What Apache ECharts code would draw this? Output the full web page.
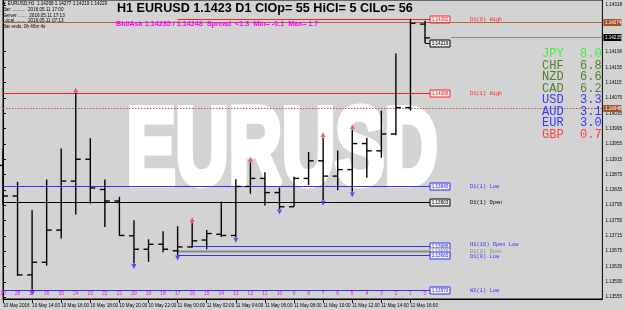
<!DOCTYPE html>
<html>
<head>
<meta charset="utf-8">
<script src="https://cdn.jsdelivr.net/npm/echarts@6/dist/echarts.min.js"></script>
<style>
html, body { margin: 0; padding: 0; background: #d3d3d3; }
#chart { width: 625px; height: 310px; }
</style>
</head>
<body>
<div id="chart"></div>
<script>
// H1 bars, oldest first (MT4 shift 29 ... 0)
const shifts = [29, 28, 27, 26, 25, 24, 23, 22, 21, 20, 19, 18, 17, 16, 15, 14, 13, 12, 11, 10, 9, 8, 7, 6, 5, 4, 3, 2, 1, 0];
const opens  = [1.13899, 1.13819, 1.13613, 1.13646, 1.13730, 1.13858, 1.13915, 1.13836, 1.13806, 1.13715, 1.13680, 1.13693, 1.13676, 1.13686, 1.13704, 1.13719, 1.13716, 1.13844, 1.13865, 1.13828, 1.13791, 1.13865, 1.13911, 1.13871, 1.13888, 1.13956, 1.13937, 1.13981, 1.14050, 1.14268];
const highs  = [1.13943, 1.13856, 1.13782, 1.13862, 1.13943, 1.14088, 1.13970, 1.13862, 1.13817, 1.13756, 1.13706, 1.13727, 1.13740, 1.13749, 1.13730, 1.13805, 1.13863, 1.13907, 1.13881, 1.13841, 1.13869, 1.13934, 1.13971, 1.13938, 1.13992, 1.13971, 1.14042, 1.14191, 1.14282, 1.14277];
const lows   = [1.13795, 1.13610, 1.13574, 1.13637, 1.13708, 1.13771, 1.13799, 1.13738, 1.13715, 1.13643, 1.13647, 1.13672, 1.13665, 1.13684, 1.13680, 1.13712, 1.13711, 1.13825, 1.13794, 1.13785, 1.13790, 1.13848, 1.13808, 1.13834, 1.13830, 1.13867, 1.13919, 1.13978, 1.14042, 1.14219];
const closes = [1.13819, 1.13613, 1.13646, 1.13730, 1.13858, 1.13915, 1.13840, 1.13806, 1.13716, 1.13680, 1.13693, 1.13680, 1.13686, 1.13702, 1.13721, 1.13716, 1.13844, 1.13865, 1.13828, 1.13791, 1.13865, 1.13911, 1.13871, 1.13888, 1.13956, 1.13937, 1.13981, 1.14050, 1.14270, 1.14232];

const timeLabels = ['10 May 2016', '10 May 14:00', '10 May 16:00', '10 May 18:00', '10 May 20:00', '10 May 22:00',
  '11 May 00:00', '11 May 02:00', '11 May 04:00', '11 May 06:00', '11 May 08:00', '11 May 10:00',
  '11 May 12:00', '11 May 14:00', '11 May 16:00'];
const priceTicks = [1.13555, 1.13595, 1.13635, 1.13675, 1.13715, 1.13755, 1.13795, 1.13835, 1.13875,
  1.13915, 1.13955, 1.13995, 1.14035, 1.14075, 1.14115, 1.14155, 1.14196, 1.14318];

// fractal style arrows (by shift)
const upArrows = [24, 16, 12, 7, 5];
const downArrows = [27, 20, 17, 13, 10, 7, 5];

// level lines: -1 = drawn over the whole chart
const levelNames  = ['D1(0) High', 'D1(1) High', 'D1(1) Low', 'D1(1) Open', 'H1(16) Open Low', 'D1(0) Open', 'D1(0) Low', 'W1(1) Low', ''];
const levelPrices = [1.14282, 1.14088, 1.13845, 1.13803, 1.13688, 1.13676, 1.13665, 1.13573, 1.14219];
const levelFrom   = [17, -1, -1, -1, 16, 17, 17, -1, 0];
const levelKinds  = ['red', 'red', 'blue', 'black', 'blue', 'gray', 'blue', 'blue', 'black'];

// price tags on the right axis
const tagPrices = [1.14274, 1.14235, 1.14048];
const tagKinds  = ['brown', 'bid', 'dotted'];

const currencies = ['JPY', 'CHF', 'NZD', 'CAD', 'USD', 'AUD', 'EUR', 'GBP'];
const strength   = [8.0, 6.8, 6.6, 6.2, 3.3, 3.1, 3.0, 0.7];

const kindColor = { red: '#ff2020', blue: '#3030ff', black: '#000000', gray: '#8a8a8a' };
const strengthColor = v => (v >= 7.5 ? '#3ff03f' : v >= 5 ? '#4f7f2f' : v >= 1 ? '#3333ff' : '#ff3f3f');
const sans = 'Liberation Sans';
const mono = 'Liberation Mono';

const chart = echarts.init(document.getElementById('chart'));
const lastIdx = shifts.length - 1;

const graphics = [
  {
    type: 'text', x: 282, y: 154, z: 0, scaleX: 0.67,
    style: { text: 'EURUSD', font: 'bold 110px ' + sans, fill: '#ffffff', stroke: '#ffffff', lineWidth: 7,
      textAlign: 'center', textVerticalAlign: 'middle' }
  },
  { type: 'text', x: 117, y: 9, z: 50,
    style: { text: 'H1 EURUSD 1.1423 D1 ClOp= 55 HiCl= 5 ClLo= 56', font: 'bold 12.6px ' + sans, fill: '#000', textVerticalAlign: 'middle' } },
  { type: 'text', x: 116, y: 24, z: 50,
    style: { text: 'Bid/Ask 1.14235 / 1.14248  Spread  <1.3  Min= -0.1  Max= 1.7', font: 'bold 7.2px ' + sans, fill: '#ff00ff', textVerticalAlign: 'middle' } },
  { type: 'text', x: 2, y: 4, z: 50, style: { text: '\u25BC EURUSD,H1  1.14268 1.14277 1.14219 1.14229', font: '4.6px ' + sans, fill: '#000', textVerticalAlign: 'middle' } },
  { type: 'text', x: 3, y: 10, z: 50, style: { text: 'Bar: ..........  2016.05.11 17:00', font: '4.6px ' + sans, fill: '#000', textVerticalAlign: 'middle' } },
  { type: 'text', x: 3, y: 15.5, z: 50, style: { text: 'Server: ......  2016.05.11 17:13', font: '4.6px ' + sans, fill: '#000', textVerticalAlign: 'middle' } },
  { type: 'text', x: 3, y: 21, z: 50, style: { text: 'Local ........  2016.05.11 07:13', font: '4.6px ' + sans, fill: '#000', textVerticalAlign: 'middle' } },
  { type: 'text', x: 3, y: 26.5, z: 50, style: { text: 'Bar ends: 0h 46m 4s', font: '4.6px ' + sans, fill: '#000', textVerticalAlign: 'middle' } }
];
currencies.forEach((c, i) => {
  const col = strengthColor(strength[i]);
  graphics.push({ type: 'text', x: 542, y: 54 + i * 11.5, z: 50,
    style: { text: c, font: '12px ' + mono, fill: col, textVerticalAlign: 'middle' } });
  graphics.push({ type: 'text', x: 580, y: 54 + i * 11.5, z: 50,
    style: { text: strength[i].toFixed(1), font: '12px ' + mono, fill: col, textVerticalAlign: 'middle' } });
});

const option = {
  backgroundColor: '#d3d3d3',
  animation: false,
  grid: { left: 2, right: 19, top: -1, bottom: 11, show: true, borderColor: '#000', borderWidth: 1, backgroundColor: 'transparent' },
  xAxis: {
    type: 'value', min: 0, max: 41.19,
    splitLine: { show: false },
    axisLine: { lineStyle: { color: '#000', width: 1 } },
    axisTick: { customValues: timeLabels.map((_, k) => k * 2), length: 4, lineStyle: { color: '#000' } },
    axisLabel: {
      customValues: timeLabels.map((_, k) => k * 2),
      formatter: v => timeLabels[Math.round(v / 2)],
      fontSize: 4.6, fontFamily: sans, color: '#000', align: 'left', margin: 4
    }
  },
  yAxis: {
    type: 'value', position: 'right', min: 1.1355, max: 1.14331, scale: true,
    splitLine: { show: false },
    axisLine: { show: true, lineStyle: { color: '#000', width: 1 } },
    axisTick: { show: true, customValues: priceTicks, length: 3, lineStyle: { color: '#000' } },
    axisLabel: { customValues: priceTicks, formatter: v => v.toFixed(5), fontSize: 4.6, fontFamily: sans, color: '#000', margin: 3 }
  },
  graphic: graphics,
  series: [
    {
      // level lines with price boxes
      type: 'custom', z: 3,
      data: levelPrices.map((p, i) => [i, p, levelFrom[i]]),
      renderItem(params, api) {
        const i = api.value(0);
        const p = api.value(1);
        const from = api.value(2);
        const cs = params.coordSys;
        const col = kindColor[levelKinds[i]];
        const end = api.coord([lastIdx, p]);
        const x0 = from < 0 ? cs.x : api.coord([lastIdx - from, p])[0];
        const bx = end[0] + 5;
        const y = Math.round(end[1]) + 0.5;
        const children = [
          { type: 'line', shape: { x1: x0, y1: y, x2: bx, y2: y },
            style: { stroke: col, lineWidth: levelKinds[i] === 'gray' ? 2 : 1 } },
          { type: 'rect', shape: { x: bx, y: y - 3.5, width: 20, height: 7 },
            style: { fill: '#eeeeee', stroke: col, lineWidth: 1 } },
          { type: 'text', x: bx + 10, y: y,
            style: { text: p.toFixed(5), font: '4.6px ' + sans, fill: col, textAlign: 'center', textVerticalAlign: 'middle' } }
        ];
        if (levelNames[i]) {
          children.push({ type: 'text', x: 470, y: y + (i === 6 ? 1.5 : i === 4 ? -1.5 : 0),
            style: { text: levelNames[i], font: '5.4px ' + mono, fill: col, textVerticalAlign: 'middle' } });
        }
        return { type: 'group', children };
      }
    },
    {
      // bid / reference lines with axis tags
      type: 'custom', z: 3,
      data: tagPrices.map((p, i) => [i, p]),
      renderItem(params, api) {
        const i = api.value(0);
        const p = api.value(1);
        const cs = params.coordSys;
        const kind = tagKinds[i];
        const y = Math.round(api.coord([lastIdx, p])[1]) + 0.5;
        const right = cs.x + cs.width;
        const x0 = kind === 'bid' ? api.coord([lastIdx, p])[0] + 26 : cs.x;
        const col = kind === 'bid' ? '#000000' : '#a0522d';
        return { type: 'group', children: [
          { type: 'line', shape: { x1: x0, y1: y, x2: right, y2: y },
            style: { stroke: kind === 'bid' ? '#8a8a8a' : '#b0603a', lineWidth: 1, lineDash: kind === 'dotted' ? [1.5, 1.5] : null } },
          { type: 'rect', shape: { x: right + 1, y: y - 3.5, width: 18, height: 7 }, style: { fill: col } },
          { type: 'text', x: right + 2.5, y: y,
            style: { text: p.toFixed(5), font: '4.6px ' + sans, fill: '#ffffff', textVerticalAlign: 'middle' } }
        ] };
      }
    },
    {
      // OHLC bars
      type: 'custom', z: 5,
      data: shifts.map((s, i) => [i, opens[i], highs[i], lows[i], closes[i]]),
      encode: { x: 0, y: [1, 2, 3, 4] },
      renderItem(params, api) {
        const x = api.value(0);
        const o = api.coord([x, api.value(1)]);
        const h = api.coord([x, api.value(2)]);
        const l = api.coord([x, api.value(3)]);
        const c = api.coord([x, api.value(4)]);
        const st = { stroke: '#000', lineWidth: 1.4 };
        return { type: 'group', children: [
          { type: 'line', shape: { x1: h[0], y1: h[1], x2: l[0], y2: l[1] }, style: st },
          { type: 'line', shape: { x1: o[0] - 5, y1: o[1], x2: o[0], y2: o[1] }, style: st },
          { type: 'line', shape: { x1: c[0], y1: c[1], x2: c[0] + 5, y2: c[1] }, style: st }
        ] };
      }
    },
    {
      type: 'scatter', z: 6, symbol: 'triangle', symbolSize: [5, 5], symbolOffset: [0, -3],
      itemStyle: { color: '#ff3030' },
      data: upArrows.map(s => [lastIdx - s, highs[lastIdx - s]])
    },
    {
      type: 'scatter', z: 6, symbol: 'triangle', symbolRotate: 180, symbolSize: [5, 5], symbolOffset: [0, 3],
      itemStyle: { color: '#3030ff' },
      data: downArrows.map(s => [lastIdx - s, lows[lastIdx - s]])
    },
    {
      // bar count numbers
      type: 'custom', z: 7,
      data: shifts.map((s, i) => [i, s]),
      renderItem(params, api) {
        const cs = params.coordSys;
        const x = api.coord([api.value(0), 1.14])[0];
        return { type: 'text', x: x, y: cs.y + cs.height - 5,
          style: { text: String(api.value(1)), font: '5px ' + sans, fill: '#ff00ff', textAlign: 'center', textVerticalAlign: 'middle' } };
      }
    }
  ]
};
chart.setOption(option);
</script>
</body>
</html>
